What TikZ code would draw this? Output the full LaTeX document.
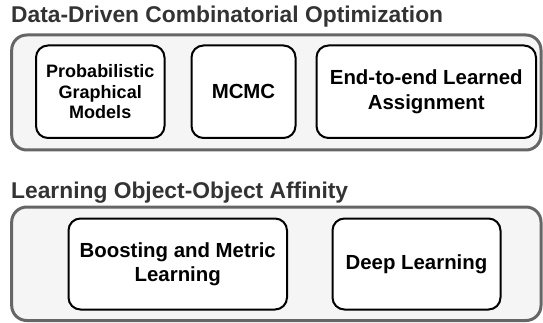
\documentclass[tikz,border=0pt]{standalone}
\usepackage{fontspec}
\setmainfont{Liberation Sans}
\definecolor{outerfill}{HTML}{F5F5F5}
\definecolor{outerdraw}{HTML}{666666}
\definecolor{titlecol}{HTML}{333333}
\begin{document}
\begin{tikzpicture}[x=1pt,y=-1pt,
  groupbox/.style={draw=outerdraw,fill=outerfill,line width=3pt,rounded corners=15pt,minimum width=#1,inner sep=0pt},
  itembox/.style={draw=black,fill=white,line width=2pt,rounded corners=12pt,align=center,inner sep=0pt},
  grouptitle/.style={anchor=base west,inner sep=0pt,text=titlecol,font=\fontsize{22.8}{25}\selectfont\bfseries},
  bigtext/.style={font=\fontsize{20.4}{24.3}\selectfont\bfseries},
  smalltext/.style={font=\fontsize{18}{20.5}\selectfont\bfseries}]
\useasboundingbox (0,0) rectangle (543,323);
% group 1
\node[grouptitle] (t1) at (11,22.7) {Data-Driven Combinatorial Optimization};
\node[groupbox=529.3pt,minimum height=115pt] (g1) at (276.35,92.5) {};
\node[itembox,smalltext,minimum width=128.5pt,minimum height=92.5pt] (pgm) at (100.25,91.75) {Probabilistic\\Graphical\\Models};
\node[itembox,bigtext,minimum width=104pt,minimum height=92.5pt] (mcmc) at (243.5,91.75) {MCMC};
\node[itembox,bigtext,minimum width=219.5pt,minimum height=92.5pt] (e2e) at (426.25,91.75) {End-to-end Learned\\Assignment};
% group 2
\node[grouptitle] (t2) at (11,198) {Learning Object-Object Affinity};
\node[groupbox=529.3pt,minimum height=113.5pt] (g2) at (276.35,263.75) {};
\node[itembox,bigtext,minimum width=218.5pt,minimum height=91pt] (boost) at (177.75,264) {Boosting and Metric\\Learning};
\node[itembox,bigtext,minimum width=168pt,minimum height=91pt] (deep) at (416.5,264) {Deep Learning};
\end{tikzpicture}
\end{document}
